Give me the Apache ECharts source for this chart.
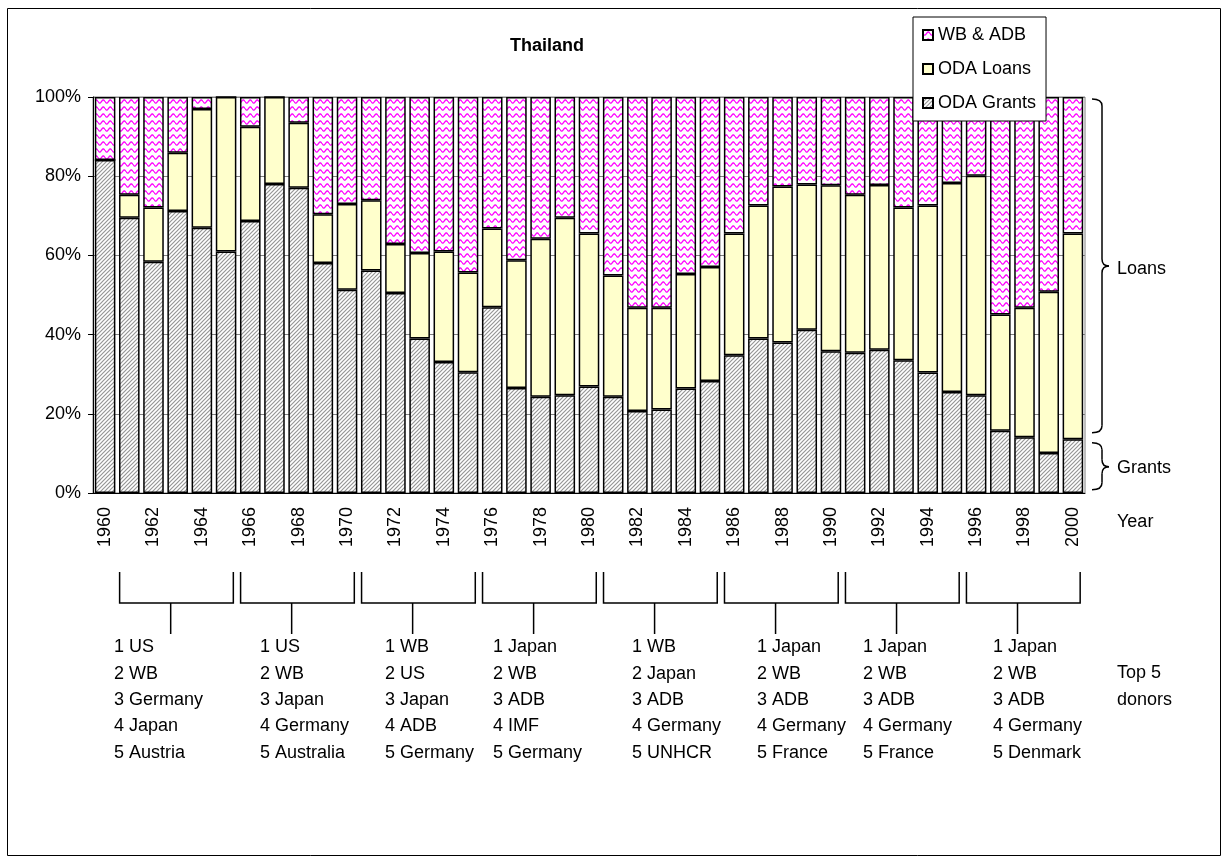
<!DOCTYPE html>
<html>
<head>
<meta charset="utf-8">
<script src="https://cdn.jsdelivr.net/npm/echarts@6/dist/echarts.min.js"></script>
<style>
html,body{margin:0;padding:0;background:#fff;}
#chart{width:1229px;height:863px;}
</style>
</head>
<body>
<div id="chart"></div>
<script>
// ---------- DATA ----------
const years = ['1960','1961','1962','1963','1964','1965','1966','1967','1968','1969','1970',
  '1971','1972','1973','1974','1975','1976','1977','1978','1979','1980',
  '1981','1982','1983','1984','1985','1986','1987','1988','1989','1990',
  '1991','1992','1993','1994','1995','1996','1997','1998','1999','2000'];
const odaGrants = [84.1,69.5,58.4,71.2,67.0,61.0,68.7,78.0,77.1,58.1,51.3,
  56.2,50.5,39.0,33.1,30.5,46.9,26.5,24.3,24.7,26.9,
  24.3,20.7,21.1,26.4,28.3,34.8,39.0,38.0,41.2,35.8,
  35.4,36.2,33.5,30.4,25.5,24.7,15.7,14.1,10.1,13.6];
const odaLoans = [0,5.8,13.7,14.7,30.0,39.0,23.8,22.0,16.4,12.3,21.7,
  17.7,12.4,21.6,27.9,25.2,19.9,32.3,39.9,44.8,38.6,
  30.6,26.1,25.7,28.9,28.8,30.7,33.6,39.4,36.7,41.9,
  39.9,41.6,38.6,42.2,52.8,55.4,29.4,32.7,40.7,51.9];
const wbAdb = [15.9,24.7,27.9,14.1,3.0,0,7.5,0,6.5,29.6,27.0,
  26.1,37.1,39.4,39.0,44.3,33.2,41.2,35.8,30.5,34.5,
  45.1,53.2,53.2,44.7,42.9,34.5,27.4,22.6,22.1,22.3,
  24.7,22.2,27.9,27.4,21.7,19.9,54.9,53.2,49.2,34.5];
const yTicks = [0,20,40,60,80,100];
const donorGroups = [
  {from:'1961', to:'1965', donors:['US','WB','Germany','Japan','Austria']},
  {from:'1966', to:'1970', donors:['US','WB','Japan','Germany','Australia']},
  {from:'1971', to:'1975', donors:['WB','US','Japan','ADB','Germany']},
  {from:'1976', to:'1980', donors:['Japan','WB','ADB','IMF','Germany']},
  {from:'1981', to:'1985', donors:['WB','Japan','ADB','Germany','UNHCR']},
  {from:'1986', to:'1990', donors:['Japan','WB','ADB','Germany','France']},
  {from:'1991', to:'1995', donors:['Japan','WB','ADB','Germany','France']},
  {from:'1996', to:'2000', donors:['Japan','WB','ADB','Germany','Denmark']}
];

// ---------- LAYOUT / STYLE ----------
const FONT = '"Liberation Sans", Arial, sans-serif';
const donorTextX = [114, 260, 385, 493, 632, 757, 863, 993];

function hatchPattern(){
  const c = document.createElement('canvas');
  c.width = 4; c.height = 4;
  const g = c.getContext('2d');
  g.fillStyle = '#ffffff'; g.fillRect(0,0,4,4);
  g.strokeStyle = '#969696'; g.lineWidth = 1.2;
  g.beginPath();
  g.moveTo(-1,5); g.lineTo(5,-1);
  g.moveTo(-3,3); g.lineTo(3,-3);
  g.moveTo(1,7); g.lineTo(7,1);
  g.stroke();
  return c;
}
function wavePattern(){
  const c = document.createElement('canvas');
  c.width = 7; c.height = 7;
  const g = c.getContext('2d');
  g.fillStyle = '#ffffff'; g.fillRect(0,0,7,7);
  g.strokeStyle = '#ff00ff'; g.lineWidth = 1.3;
  g.beginPath();
  for (let x = 0; x <= 7; x += 0.5) {
    const y = 3.5 + 1.6 * Math.sin(2 * Math.PI * x / 7);
    if (x === 0) g.moveTo(x, y); else g.lineTo(x, y);
  }
  g.stroke();
  return c;
}
const hatchFill = {image: hatchPattern(), repeat: 'repeat'};
const waveFill = {image: wavePattern(), repeat: 'repeat'};

const chart = echarts.init(document.getElementById('chart'), null, {renderer:'canvas'});

const barCommon = {
  type: 'bar', stack: 'total', barCategoryGap: '15%',
  emphasis: {disabled: true}
};

chart.setOption({
  animation: false,
  backgroundColor: '#ffffff',
  textStyle: {fontFamily: FONT, color: '#000'},
  grid: {left: 93, right: 144, top: 97, bottom: 370, show: true, borderColor: '#808080', borderWidth: 1, backgroundColor: 'transparent'},
  legend: {
    orient: 'vertical', left: 913, top: 17,
    data: ['WB & ADB', 'ODA Loans', 'ODA Grants'],
    backgroundColor: '#fff', borderColor: '#000', borderWidth: 1,
    padding: [9, 10, 9, 9], itemGap: 16, itemWidth: 10, itemHeight: 10,
    icon: 'rect',
    textStyle: {fontFamily: FONT, fontSize: 18, color: '#000'},
    selectedMode: false, z: 10
  },
  xAxis: {
    type: 'category', data: years,
    axisLine: {show: true, lineStyle: {color: '#000', width: 1}},
    axisTick: {show: false},
    axisLabel: {rotate: 90, interval: 1, fontSize: 18, color: '#000', margin: 14, fontFamily: FONT},
    splitLine: {show: false}
  },
  yAxis: {
    type: 'value', min: 0, max: 100, interval: 20,
    axisLine: {show: true, lineStyle: {color: '#000', width: 1}},
    axisTick: {show: true, inside: false, length: 5, lineStyle: {color: '#000'}},
    axisLabel: {formatter: '{value}%', fontSize: 18, color: '#000', margin: 12, fontFamily: FONT},
    splitLine: {show: true, lineStyle: {color: '#808080', width: 1}}
  },
  series: [
    Object.assign({}, barCommon, {name: 'ODA Grants', data: odaGrants,
      itemStyle: {color: hatchFill, borderColor: '#000', borderWidth: 1.5}}),
    Object.assign({}, barCommon, {name: 'ODA Loans', data: odaLoans,
      itemStyle: {color: '#ffffcc', borderColor: '#000', borderWidth: 1.5}}),
    Object.assign({}, barCommon, {name: 'WB & ADB', data: wbAdb,
      itemStyle: {color: waveFill, borderColor: '#000', borderWidth: 1.5}})
  ]
});

// ---------- ANNOTATIONS ----------
function px(cat){ return chart.convertToPixel({xAxisIndex: 0}, cat); }
function py(v){ return chart.convertToPixel({yAxisIndex: 0}, v); }
const step = px(years[1]) - px(years[0]);

const graphics = [];
const lineStyle = {fill: 'none', stroke: '#000', lineWidth: 1.5};
function brace(x0, y1, y2, ym){
  const xm = x0 + 10, xt = x0 + 17, r = 7;
  const out = [];
  out.push({type: 'bezierCurve', shape: {x1: x0, y1: y1, cpx1: xm, cpy1: y1, x2: xm, y2: y1 + r}, style: lineStyle});
  out.push({type: 'line', shape: {x1: xm, y1: y1 + r, x2: xm, y2: ym - r}, style: lineStyle});
  out.push({type: 'bezierCurve', shape: {x1: xm, y1: ym - r, cpx1: xm, cpy1: ym, x2: xt, y2: ym}, style: lineStyle});
  out.push({type: 'bezierCurve', shape: {x1: xt, y1: ym, cpx1: xm, cpy1: ym, x2: xm, y2: ym + r}, style: lineStyle});
  out.push({type: 'line', shape: {x1: xm, y1: ym + r, x2: xm, y2: y2 - r}, style: lineStyle});
  out.push({type: 'bezierCurve', shape: {x1: xm, y1: y2 - r, cpx1: xm, cpy1: y2, x2: x0, y2: y2}, style: lineStyle});
  return out;
}

// outer frame
graphics.push({type: 'rect', shape: {x: 7.5, y: 8.5, width: 1213, height: 847},
  style: {fill: 'none', stroke: '#000', lineWidth: 1}, silent: true, z: 0});
// title
graphics.push({type: 'text', x: 547, y: 46, style: {text: 'Thailand', font: 'bold 18px ' + FONT,
  fill: '#000', textAlign: 'center', textVerticalAlign: 'middle'}});
// Year label
graphics.push({type: 'text', x: 1117, y: 522, style: {text: 'Year', font: '18px ' + FONT,
  fill: '#000', textAlign: 'left', textVerticalAlign: 'middle'}});
// braces on right
const bx = 1092;
brace(bx, py(100) + 2, py(15.2), py(57.3)).forEach(g => graphics.push(g));
brace(bx, py(12.7), py(0.8), py(6.6)).forEach(g => graphics.push(g));
graphics.push({type: 'text', x: 1117, y: py(57.3) + 3, style: {text: 'Loans', font: '18px ' + FONT,
  fill: '#000', textAlign: 'left', textVerticalAlign: 'middle'}});
graphics.push({type: 'text', x: 1117, y: py(6.6) + 1, style: {text: 'Grants', font: '18px ' + FONT,
  fill: '#000', textAlign: 'left', textVerticalAlign: 'middle'}});
// brackets and donor lists
donorGroups.forEach((grp, i) => {
  const xl = px(grp.from) - 0.4 * step;
  const xr = px(grp.to) + 0.3 * step;
  const idx = years.indexOf(grp.from);
  const stem = px(years[idx + 2]) - 7;
  graphics.push({type: 'polyline', shape: {points: [[xl, 572], [xl, 603], [xr, 603], [xr, 572]]},
    style: lineStyle});
  graphics.push({type: 'line', shape: {x1: stem, y1: 603, x2: stem, y2: 634},
    style: lineStyle});
  graphics.push({type: 'text', x: donorTextX[i], y: 634,
    style: {text: grp.donors.map((d, k) => (k + 1) + ' ' + d).join('\n'),
      font: '18px ' + FONT, fill: '#000', lineHeight: 26.4, textVerticalAlign: 'top'}});
});
graphics.push({type: 'text', x: 1117, y: 660,
  style: {text: 'Top 5\ndonors', font: '18px ' + FONT, fill: '#000', lineHeight: 26.4, textVerticalAlign: 'top'}});

chart.setOption({graphic: graphics});
</script>
</body>
</html>
